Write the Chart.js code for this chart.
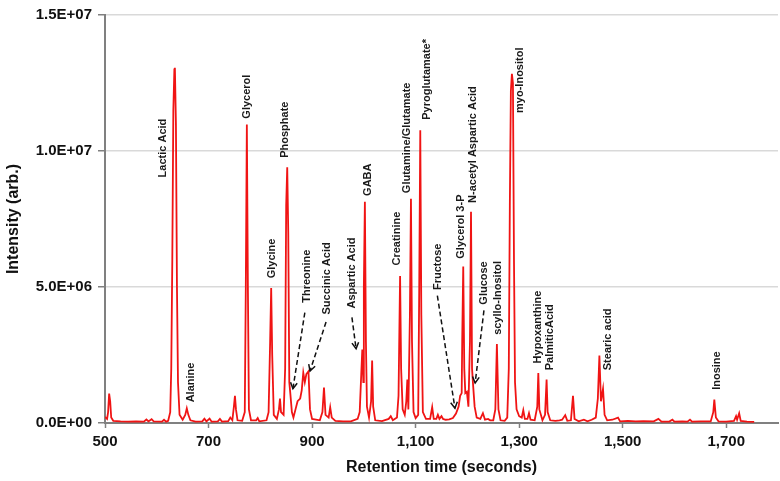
<!DOCTYPE html>
<html>
<head>
<meta charset="utf-8">
<script src="https://cdn.jsdelivr.net/npm/chart.js@4"></script>
<style>
  html, body { margin: 0; padding: 0; background: #fff; }
  #wrap { width: 780px; height: 481px; }
</style>
</head>
<body>
<div id="wrap"><canvas id="myChart" width="780" height="481"></canvas></div>
<script>
// retention time (s) and intensity of the chromatogram trace
const times = [
  500, 504, 506, 508, 510, 512, 516, 530, 545, 560, 575, 580, 584, 590, 594, 610, 614, 618, 622, 626,
  628, 630, 632, 634, 635, 637, 639, 641, 644, 650, 655, 658, 661, 665, 675, 688, 692, 696, 702, 706,
  718, 722, 726, 738, 742, 746, 749, 751, 753, 756, 765, 770, 772, 774, 776, 778, 782, 792, 795, 798,
  812, 816, 819, 821, 823, 826, 832, 836, 838, 840, 845, 848, 850, 852, 854, 856, 858, 861, 864, 868,
  872, 877, 880, 883, 886, 889, 893, 896, 900, 915, 920, 923, 926, 932, 935, 938, 945, 960, 975, 988,
  992, 995, 997, 999, 1000, 1002, 1004, 1006, 1010, 1014, 1016, 1018, 1022, 1035, 1048, 1052, 1056, 1064, 1067, 1070,
  1072, 1075, 1079, 1082, 1084, 1086, 1089, 1091, 1093, 1096, 1100, 1105, 1107, 1109, 1111, 1114, 1120, 1128, 1132, 1135,
  1140, 1143, 1146, 1150, 1153, 1158, 1165, 1172, 1178, 1183, 1186, 1189, 1190, 1192, 1194, 1196, 1199, 1202, 1205, 1207,
  1209, 1211, 1214, 1218, 1225, 1230, 1234, 1240, 1244, 1250, 1254, 1257, 1260, 1264, 1272, 1277, 1280, 1282, 1284, 1286,
  1288, 1290, 1292, 1295, 1300, 1305, 1308, 1311, 1316, 1319, 1322, 1330, 1335, 1337, 1339, 1345, 1350, 1353, 1355, 1360,
  1370, 1378, 1383, 1389, 1393, 1400, 1404, 1407, 1415, 1425, 1432, 1440, 1448, 1452, 1455, 1458, 1462, 1465, 1470, 1480,
  1491, 1495, 1510, 1525, 1540, 1560, 1569, 1575, 1590, 1596, 1600, 1615, 1625, 1630, 1634, 1650, 1670, 1675, 1677, 1680,
  1685, 1700, 1715, 1719, 1721, 1725, 1728, 1740, 1754
];
const intensity = [
  2.2e5, 1.5e5, 4e5, 1.08e6, 8e5, 2e5, 8e4, 6e4, 5e4, 6e4, 5e4, 1.3e5, 6e4, 1.4e5, 6e4, 5e4, 1.2e5, 5e4, 8e4, 4e5,
  2e6, 6e6, 1.15e7, 1.3e7, 1.306e7, 1.1e7, 5e6, 1.5e6, 3e5, 1.2e5, 3e5, 5.4e5, 3e5, 1e5, 5e4, 6e4, 1.6e5, 6e4, 1.6e5, 5e4,
  6e4, 1.5e5, 5e4, 7e4, 2e5, 1e5, 6e5, 1.0e6, 5e5, 1e5, 8e4, 4e5, 5e6, 1.097e7, 5e6, 5e5, 1e5, 1e5, 1.8e5, 6e4,
  1e5, 4e5, 3e6, 4.96e6, 2.5e6, 3e5, 1.5e5, 5e5, 9e5, 4e5, 3e5, 2e6, 8e6, 9.4e6, 7e6, 1.5e6, 1.08e6, 4e5, 2e5, 5e5,
  8e5, 9e5, 1.2e6, 1.85e6, 1.5e6, 1.8e6, 1.9e6, 5e5, 1.5e5, 1e5, 4e5, 1.3e6, 3e5, 2e5, 5.8e5, 2e5, 8e4, 6e4, 6e4, 1.5e5,
  4e5, 1.8e6, 2.7e6, 1.5e6, 5e6, 8.13e6, 3e6, 6e5, 2e5, 8e5, 2.3e6, 6e5, 1e5, 7e4, 1.5e5, 2.5e5, 1e5, 2e5, 1e6, 5.4e6,
  2e6, 5e5, 3e5, 8e5, 1.6e6, 5e5, 4e6, 8.24e6, 3e6, 4e5, 1.8e5, 3e5, 5e6, 1.076e7, 4e6, 4e5, 1.5e5, 1.5e5, 5.8e5, 1.5e5,
  1.5e5, 3e5, 1.5e5, 2.5e5, 1.5e5, 1.2e5, 1.3e5, 1.8e5, 3.5e5, 6e5, 1.0e6, 1.1e6, 3e6, 5.75e6, 2e6, 1.1e6, 1.15e6, 6e5, 3e6, 7.77e6,
  2e6, 1.4e6, 6e5, 2e5, 1.5e5, 3.6e5, 1.2e5, 1.5e5, 1e5, 1e5, 5e5, 2.9e6, 5e5, 1e5, 8e4, 2e5, 2e6, 8e6, 1.22e7, 1.284e7,
  1.25e7, 6e6, 1.5e6, 5e5, 2.5e5, 2e5, 4.7e5, 1.5e5, 1.5e5, 3.6e5, 1.2e5, 1e5, 6e5, 1.84e6, 5e5, 1e5, 3e5, 1.6e6, 4e5, 1e5,
  8e4, 1e5, 1.2e5, 2.9e5, 8e4, 1e5, 1.0e6, 1.5e5, 6e4, 1.2e5, 6e4, 1.2e5, 2e5, 9e5, 2.48e6, 8e5, 1.26e6, 3e5, 1e5, 1.2e5,
  2e5, 6e4, 8e4, 6e4, 7e4, 6e4, 1.5e5, 5e4, 5e4, 1.2e5, 5e4, 6e4, 5e4, 1.2e5, 5e4, 6e4, 6e4, 4e5, 8.6e5, 2e5,
  6e4, 5e4, 8e4, 2.5e5, 1.2e5, 3.6e5, 8e4, 5e4, 4e4
];

// x axis tick values
const xTicks = [500, 700, 900, 1100, 1300, 1500, 1700];

// peak names: text starts at (labelTime, labelBase) and runs upward
const labelNames = [
  "Lactic Acid", "Alanine", "Glycerol", "Phosphate", "Glycine", "Threonine", "Succinic Acid",
  "Aspartic Acid", "GABA", "Creatinine", "Glutamine/Glutamate", "Pyroglutamate*", "Fructose",
  "Glycerol 3-P", "N-acetyl Aspartic Acid", "Glucose", "scyllo-Inositol", "myo-Inositol",
  "Hypoxanthine", "PalmiticAcid", "Stearic acid", "Inosine"
];
const labelTime = [612, 666, 774, 848, 823, 890, 929, 977, 1008, 1064, 1084, 1122, 1143, 1188, 1211, 1232, 1259, 1302, 1337, 1360, 1472, 1683];
const labelBase = [9.03e6, 7.6e5, 1.119e7, 9.75e6, 5.32e6, 4.42e6, 3.99e6, 4.21e6, 8.35e6, 5.79e6, 8.45e6, 1.115e7, 4.89e6, 6.04e6, 8.09e6, 4.35e6, 3.24e6, 1.14e7, 2.19e6, 1.94e6, 1.94e6, 1.22e6];

// dashed arrows for small peaks: tail -> tip
const arrowFromTime = [886, 927, 977, 1142, 1232];
const arrowFromVal = [4.06e6, 3.71e6, 3.88e6, 4.68e6, 4.14e6];
const arrowToTime = [863, 896, 985, 1176, 1215];
const arrowToVal = [1.26e6, 1.91e6, 2.73e6, 5.4e5, 1.47e6];

const points = times.map((t, i) => ({ x: t, y: intensity[i] }));

const peakLabels = {
  id: "peakLabels",
  afterDatasetsDraw(chart) {
    const ctx = chart.ctx;
    const xs = chart.scales.x, ys = chart.scales.y;
    ctx.save();
    ctx.fillStyle = "#1a1a1a";
    ctx.font = "bold 11px 'Liberation Sans', Arial, sans-serif";
    ctx.textAlign = "left";
    ctx.textBaseline = "middle";
    labelNames.forEach((name, i) => {
      ctx.save();
      ctx.translate(xs.getPixelForValue(labelTime[i]), ys.getPixelForValue(labelBase[i]));
      ctx.rotate(-Math.PI / 2);
      ctx.fillText(name, 0, 0);
      ctx.restore();
    });
    ctx.strokeStyle = "#111";
    ctx.lineWidth = 1.5;
    arrowFromTime.forEach((t, i) => {
      const x1 = xs.getPixelForValue(t), y1 = ys.getPixelForValue(arrowFromVal[i]);
      const x2 = xs.getPixelForValue(arrowToTime[i]), y2 = ys.getPixelForValue(arrowToVal[i]);
      ctx.setLineDash([5, 3]);
      ctx.beginPath();
      ctx.moveTo(x1, y1);
      ctx.lineTo(x2, y2);
      ctx.stroke();
      const a = Math.atan2(y2 - y1, x2 - x1);
      ctx.setLineDash([]);
      ctx.beginPath();
      ctx.moveTo(x2 - 7 * Math.cos(a - 0.5), y2 - 7 * Math.sin(a - 0.5));
      ctx.lineTo(x2, y2);
      ctx.lineTo(x2 - 7 * Math.cos(a + 0.5), y2 - 7 * Math.sin(a + 0.5));
      ctx.stroke();
    });
    ctx.restore();
  }
};

const tickFont = { family: "'Liberation Sans', Arial, sans-serif", size: 15, weight: "bold" };
const titleFont = { family: "'Liberation Sans', Arial, sans-serif", size: 16, weight: "bold" };

const ctx = document.getElementById("myChart").getContext("2d");
const myChart = new Chart(ctx, {
  type: "line",
  data: {
    datasets: [
      {
        data: points,
        borderColor: "#f01414",
        borderWidth: 1.8,
        pointRadius: 0,
        tension: 0,
        fill: false,
      },
    ],
  },
  options: {
    responsive: false,
    animation: false,
    layout: { padding: { top: 6, right: 2, left: 0, bottom: 0 } },
    plugins: {
      legend: { display: false },
      tooltip: { enabled: false },
    },
    scales: {
      x: {
        type: "linear",
        min: 500,
        max: 1800,
        afterBuildTicks: (scale) => {
          scale.ticks = xTicks.map((v) => ({ value: v }));
        },
        ticks: {
          color: "#111",
          font: tickFont,
          padding: 5,
          maxRotation: 0,
          autoSkip: false,
          callback: (v) => v.toLocaleString("en-US"),
        },
        grid: { drawOnChartArea: false, tickLength: 5, tickColor: "#808080", tickWidth: 1.5 },
        border: { color: "#808080", width: 2 },
        title: { display: true, text: "Retention time (seconds)", color: "#111", font: titleFont, padding: { top: 6 } },
        afterFit: (scale) => { scale.height = 58; },
      },
      y: {
        min: 0,
        max: 1.5e7,
        ticks: {
          stepSize: 5e6,
          color: "#111",
          font: tickFont,
          padding: 6,
          callback: (v) => {
            const e = v === 0 ? 0 : Math.floor(Math.log10(v));
            const m = v === 0 ? 0 : v / Math.pow(10, e);
            return m.toFixed(1) + "E+" + String(e).padStart(2, "0");
          },
        },
        grid: { color: "#d9d9d9", lineWidth: 1.5, tickLength: 7, tickColor: "#808080" },
        border: { color: "#808080", width: 2 },
        title: { display: true, text: "Intensity (arb.)", color: "#111", font: titleFont, padding: { bottom: 4 } },
        afterFit: (scale) => { scale.width = 105; },
      },
    },
  },
  plugins: [peakLabels],
});
</script>
</body>
</html>
